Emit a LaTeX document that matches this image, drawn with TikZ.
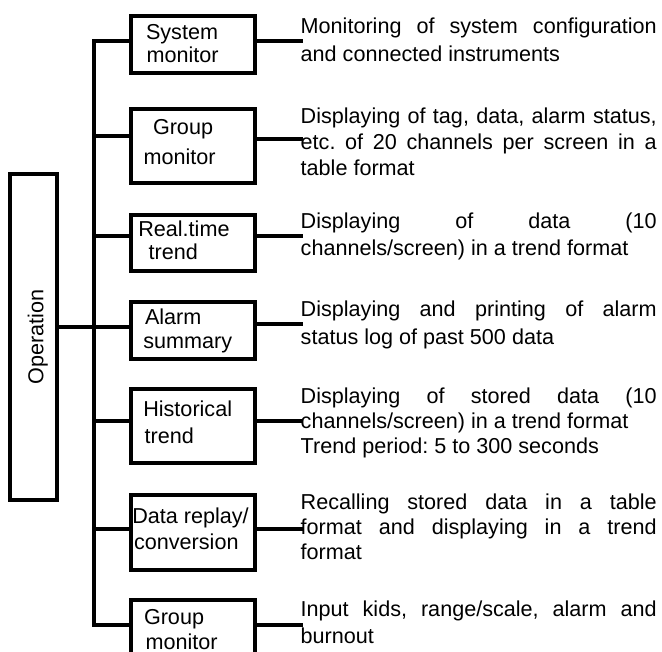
\documentclass[tikz,border=0pt]{standalone}
\usepackage{fontspec}
\setmainfont{Liberation Sans}
\frenchspacing
\tikzset{
  ln/.style={line width=4pt, line join=miter, line cap=rect},
  bx/.style={draw, line width=4pt, inner sep=0pt, anchor=north west},
  dsc/.style={inner sep=0pt, anchor=north west},
}
\newcommand\jl[1]{\makebox[356pt][s]{#1}}
\newcommand\dtext[2]{\parbox[b]{356pt}{\fontsize{21.6pt}{#1}\selectfont\rule{0pt}{20pt}#2}}
\newcommand\btext[3]{\parbox[b][#1][t]{124pt}{\fontsize{21.6pt}{23pt}\selectfont\rule{0pt}{#2}#3}}
\begin{document}
\begin{tikzpicture}[x=1pt,y=-1pt]
\useasboundingbox (0,0) rectangle (662,652);
% Operation box
\node[draw, line width=4pt, inner sep=0pt, rotate=90, minimum width=325.7pt, minimum height=46.9pt] (op) at (33.75,336.8)
  {\fontsize{21.6pt}{23pt}\selectfont\raisebox{0pt}[22pt][3pt]{Operation}};
% function boxes
\node[bx] (b1) at (129,14.5) {\btext{56.5pt}{23.5pt}{\hspace*{15pt}System\\\hspace*{15.6pt}monitor}};
\node[bx] (b2) at (129,107) {\btext{74pt}{26pt}{\hspace*{22pt}Group\\[7pt]\hspace*{12.6pt}monitor}};
\node[bx] (b3) at (129,213) {\btext{56pt}{22pt}{\hspace*{7.3pt}Real.time\\\hspace*{17.6pt}trend}};
\node[bx] (b4) at (129,300) {\btext{57pt}{23pt}{\hspace*{14pt}Alarm\\[1pt]\hspace*{12.3pt}summary}};
\node[bx] (b5) at (129,387) {\btext{74pt}{27pt}{\hspace*{12.3pt}Historical\\[5pt]\hspace*{13.6pt}trend}};
\node[bx] (b6) at (129,493) {\btext{75pt}{28pt}{\hspace*{1.3pt}Data replay/\\[3pt]\hspace*{3.1pt}conversion}};
\node[bx] (b7) at (129,598) {\btext{62pt}{24pt}{\hspace*{13pt}Group\\[2pt]\hspace*{14.6pt}monitor}};
% descriptions
\node[dsc] (d1) at (300.5,13.5) {\dtext{27.5pt}{\jl{Monitoring of system configuration}\\and connected instruments}};
\node[dsc] (d2) at (300.5,103.3) {\dtext{26pt}{\jl{Displaying of tag, data, alarm status,}\\\jl{etc. of 20 channels per screen in a}\\table format}};
\node[dsc] (d3) at (300.5,208.3) {\dtext{27pt}{\jl{Displaying of data (10}\\channels/screen) in a trend format}};
\node[dsc] (d4) at (300.5,296.7) {\dtext{28pt}{\jl{Displaying and printing of alarm}\\status log of past 500 data}};
\node[dsc] (d5) at (300.5,383.3) {\dtext{25pt}{\jl{Displaying of stored data (10}\\channels/screen) in a trend format\\Trend period: 5 to 300 seconds}};
\node[dsc] (d6) at (300.5,489.3) {\dtext{25pt}{\jl{Recalling stored data in a table}\\\jl{format and displaying in a trend}\\format}};
\node[dsc] (d7) at (300.5,596.7) {\dtext{26.5pt}{\jl{Input kids, range/scale, alarm and}\\burnout}};
% trunk coordinates
\coordinate (t1) at (94,41);
\coordinate (t2) at (94,136);
\coordinate (t3) at (94,236.5);
\coordinate (t4) at (94,327);
\coordinate (t5) at (94,421);
\coordinate (t6) at (94,529);
\coordinate (t7) at (94,625);
\coordinate (r2) at (0,139.5);
\coordinate (r4) at (0,324.5);
% left connectors
\draw[ln] (b1.west |- t1) -- (t1) -- (t7) -- (b7.west |- t7);
\foreach \i in {2,3,5,6} \draw[ln] (t\i) -- (b\i.west |- t\i);
\draw[ln] (op.south |- t4) -- (b4.west |- t4);
% right connectors
\draw[ln] (b1.east |- t1) -- (d1.west |- t1);
\draw[ln] (b2.east |- r2) -- (d2.west |- r2);
\draw[ln] (b3.east |- t3) -- (d3.west |- t3);
\draw[ln] (b4.east |- r4) -- (d4.west |- r4);
\draw[ln] (b5.east |- t5) -- (d5.west |- t5);
\draw[ln] (b6.east |- t6) -- (d6.west |- t6);
\draw[ln] (b7.east |- t7) -- (d7.west |- t7);
\end{tikzpicture}
\end{document}
